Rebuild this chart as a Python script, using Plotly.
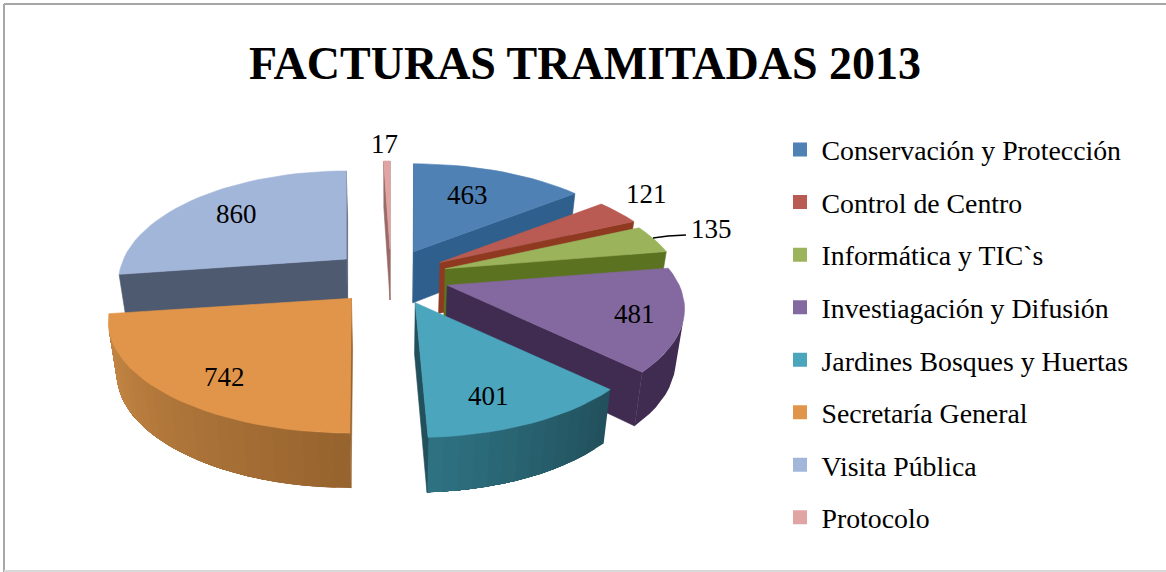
import math
import plotly.graph_objects as go

TITLE = "FACTURAS TRAMITADAS 2013"
CATEGORIES = ["Conservación y Protección", "Control de Centro", "Informática y TIC`s",
              "Investiagación y Difusión", "Jardines Bosques y Huertas",
              "Secretaría General", "Visita Pública", "Protocolo"]
VALUES = [463, 121, 135, 481, 401, 742, 860, 17]
TOP_COLORS = ["#4f81b5", "#b95b52", "#9bb45c", "#8468a0", "#4ba5bd", "#e0954a", "#a2b6da", "#e0a5a3"]
WALL_A = ["#2f5f8c", "#8f3a20", "#5b7320", "#3f2c50", "#22505c", "#97632e", "#4e5a70", "#9a6a68"]
WALL_B = ["#2f5f8c", "#8f3a20", "#5b7320", "#3f2c50", "#2f7484", "#cb8c48", "#4e5a70", "#9a6a68"]
LABEL_R = [0.65, 1.253, 1.292, 0.797, 0.785, 0.798, 0.691, 1.243]
LABEL_T = [22, 54, 71.6, 108.8, 160.2, 216.5, 312.2, 358.5]
# small per-slice corrections of the 3D view
SLICE_DX = [-4, -3, -4, -2, 0, 0, 2, 0]
X_SCALE = [1, 1, 1, 1, 1, 1.025, 0.96, 1]
START_ADJ = [0, 0, 0, 0, 0, 1.3, 0, 0]
END_ADJ = [0, 0, 0, 0, -1.5, 0, 1.9, 0]

FONT = "Liberation Serif"
CX, CY, EX, EY = 391, 277, 61, 28
R0, A0, K = 232, 106.5, 0.21

total = sum(VALUES)
starts, acc = [], 0
for v in VALUES:
    starts.append(acc / total * 360)
    acc += v
ends = [s + v / total * 360 for s, v in zip(starts, VALUES)]


def project(i, r, deg, base=False, adjust=True):
    mid = math.radians((starts[i] + ends[i]) / 2)
    ax = CX + EX * math.sin(mid) + (SLICE_DX[i] if adjust else 0)
    ay = CY - EY * math.cos(mid)
    t = math.radians(deg)
    u, v = r * math.sin(t), r * math.cos(t)
    x = ax + R0 * u / (1 + K * v) * (X_SCALE[i] if adjust else 1)
    y = ay - A0 * v / (1 + K * v)
    if base:
        y += 51 - 4 * v
        x = CX + (x - CX) * 0.97
    return x, y


def hex2rgb(h):
    return [int(h[j:j + 2], 16) for j in (1, 3, 5)]


def mix(a, b, t):
    ca, cb = hex2rgb(a), hex2rgb(b)
    return "rgb(%d,%d,%d)" % tuple(round(p + (q - p) * t) for p, q in zip(ca, cb))


def area(pts):
    s = 0
    for (x0, y0), (x1, y1) in zip(pts, pts[1:] + pts[:1]):
        s += x0 * y1 - x1 * y0
    return s


fig = go.Figure()


def poly(pts, color, name=None, lw=0.6):
    xs = [p[0] for p in pts] + [pts[0][0]]
    ys = [p[1] for p in pts] + [pts[0][1]]
    fig.add_trace(go.Scatter(x=xs, y=ys, mode="lines", fill="toself", fillcolor=color,
                             line=dict(color=color, width=lw), showlegend=False,
                             hoverinfo="text" if name else "skip", text=name))


def quad(i, a0, r0, a1, r1):
    return [project(i, r0, a0), project(i, r1, a1), project(i, r1, a1, True), project(i, r0, a0, True)]


# painter order of the picture: back slices first, front slices last
ORDER = [0, 1, 2, 3, 6, 7, 4, 5]
for i in ORDER:
    s, e = starts[i] + START_ADJ[i], ends[i] + END_ADJ[i]
    n = max(2, int((e - s) / 3))
    angs = [s + (e - s) * j / n for j in range(n + 1)]
    q = quad(i, s, 0, s, 1)
    if area(q) < 0:
        poly(q, WALL_A[i])
    vis = [j for j in range(n) if area(quad(i, angs[j], 1, angs[j + 1], 1)) < 0]
    if vis:
        last = vis[-1] + 1
        for j in vis:
            if j > vis[0] and WALL_A[i] == WALL_B[i]:
                break
            arc = angs[j:last + 1]
            pts = [project(i, 1, a) for a in arc] + [project(i, 1, a, True) for a in reversed(arc)]
            poly(pts, mix(WALL_A[i], WALL_B[i], j / n), lw=0)
    q = quad(i, e, 1, e, 0)
    if area(q) < 0:
        poly(q, WALL_A[i])
    top = [project(i, 0, 0)] + [project(i, 1, a) for a in angs]
    poly(top, TOP_COLORS[i], "%s: %d" % (CATEGORIES[i], VALUES[i]))

# leader line of the 135 label
fig.add_trace(go.Scatter(x=[653, 668, 686], y=[238, 236, 235], mode="lines",
                         line=dict(color="black", width=1.4), showlegend=False, hoverinfo="skip"))

# legend entries
for i, c in enumerate(CATEGORIES):
    fig.add_trace(go.Scatter(x=[None], y=[None], mode="markers", name=c, legendgroup=c,
                             marker=dict(symbol="square", size=14, color=TOP_COLORS[i])))

for i, v in enumerate(VALUES):
    x, y = project(i, LABEL_R[i], LABEL_T[i], adjust=False)
    fig.add_annotation(x=x, y=y, text=str(v), showarrow=False, xref="x", yref="y",
                       font=dict(family=FONT, size=27, color="black"))

fig.update_layout(
    width=1166, height=572, margin=dict(l=0, r=0, t=0, b=0, autoexpand=False),
    paper_bgcolor="white", plot_bgcolor="white",
    title=dict(text="<b>%s</b>" % TITLE, x=585 / 1166, xanchor="center", y=1 - 63 / 572, yanchor="middle",
               automargin=False, font=dict(family=FONT, size=46, color="black")),
    xaxis=dict(range=[0, 1166], visible=False, domain=[0, 1]),
    yaxis=dict(range=[572, 0], visible=False, domain=[0, 1]),
    legend=dict(x=778.5 / 1166, xanchor="left", y=1 - 125 / 572, yanchor="top", tracegroupgap=13.4,
                itemwidth=33, bgcolor="rgba(0,0,0,0)", font=dict(family=FONT, size=27.8, color="black")),
    shapes=[
        dict(type="line", xref="x", yref="y", x0=4, x1=1166, y0=4, y1=4, line=dict(color="#a6a6a6", width=2)),
        dict(type="line", xref="x", yref="y", x0=4, x1=4, y0=4, y1=572, line=dict(color="#a6a6a6", width=2)),
        dict(type="line", xref="x", yref="y", x0=4, x1=1166, y0=571, y1=571, line=dict(color="#d9d9d9", width=2)),
    ],
)

fig.write_html("out.html", config={"displayModeBar": False},
               post_script="document.body.style.margin='0';document.documentElement.style.overflow='hidden';")
